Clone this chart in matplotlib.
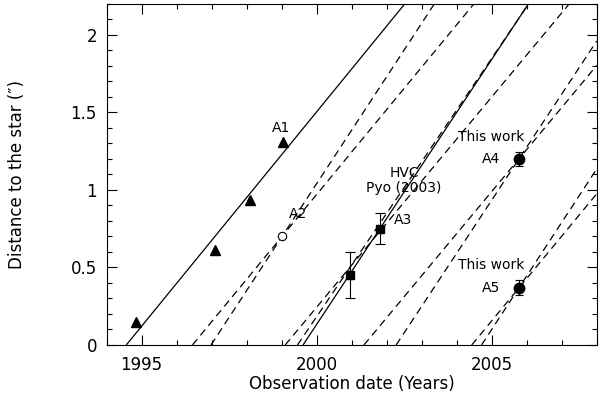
import numpy as np
import matplotlib
matplotlib.use('Agg')
import matplotlib.pyplot as plt
from matplotlib.ticker import MultipleLocator, FuncFormatter

# ── Data ─────────────────────────────────────────────────────
# A1 knot (filled triangles)
a1_year = [1994.83, 1997.09, 1998.09, 1999.04]
a1_dist = [0.15, 0.61, 0.935, 1.31]
# A2 knot (open symbol)
a2_year = [1999.02]
a2_dist = [0.70]
# A3 knot, HVC Pyo (2003) (squares with error bars)
a3_year = [2000.95, 2001.82]
a3_dist = [0.45, 0.75]
a3_err  = [0.15, 0.10]
# A4 / A5, this work (filled circles with error bars)
tw_year = [2005.77, 2005.77]
tw_dist = [1.20, 0.37]
tw_err  = [0.045, 0.05]
tw_name = ["A4", "A5"]

# linear motions: zero-crossing year and rate ("/yr)
fit_t0   = [1994.56, 1999.61]
fit_rate = [0.2764, 0.3416]
dash_t0   = [1996.45, 1996.98, 1999.10, 1999.45, 2001.35, 2002.27, 2004.43, 2004.71]
dash_rate = [0.2735, 0.3446, 0.271, 0.333, 0.271, 0.342, 0.273, 0.345]

XMIN, XMAX = 1994, 2008
YMIN, YMAX = 0, 2.2

plt.rcParams['font.family'] = ['DejaVu Sans']

fig = plt.figure(figsize=(6.0, 3.97), dpi=100)
ax = fig.add_axes([0.1778, 0.131, 0.8167, 0.8595])

# ── Motion lines ─────────────────────────────────────────────
for t0, r in zip(fit_t0, fit_rate):
    xx = np.array([t0, XMAX])
    ax.plot(xx, r * (xx - t0), color='black', lw=0.9, solid_capstyle='butt')
for t0, r in zip(dash_t0, dash_rate):
    xx = np.array([t0, XMAX])
    ax.plot(xx, r * (xx - t0), color='black', lw=0.9, dashes=(6, 4))

# ── Measurements ─────────────────────────────────────────────
ax.plot(a1_year, a1_dist, '^', color='black', ms=7.5, zorder=5)
ax.plot(a2_year, a2_dist, 'o', mfc='white', mec='black', mew=0.8, ms=6, zorder=5)
ax.errorbar(a3_year, a3_dist, yerr=a3_err, fmt='s', color='black', ms=6,
            elinewidth=0.8, capsize=3.5, capthick=0.8, zorder=5)
ax.errorbar(tw_year, tw_dist, yerr=tw_err, fmt='o', color='black', ms=7.5,
            elinewidth=0.8, capsize=3, capthick=0.8, zorder=5)

# ── Labels ───────────────────────────────────────────────────
fs = 10
def label(txt, xy, off, ha='center'):
    ax.annotate(txt, xy=xy, xytext=off, textcoords='offset points',
                ha=ha, va='center', fontsize=fs)

label("A1", (a1_year[-1], a1_dist[-1]), (-1.3, 10))
label("A2", (a2_year[0], a2_dist[0]), (11, 16.5))
label("A3", (a3_year[-1], a3_dist[-1]), (10, 6), ha='left')
label("HVC", (a3_year[-1], a3_dist[-1]), (17, 40))
label("Pyo (2003)", (a3_year[-1], a3_dist[-1]), (17, 29))
for yr, d, nm in zip(tw_year, tw_dist, tw_name):
    label(nm, (yr, d), (-20, 0))
    label("This work", (yr, d), (-20, 16))

# ── Axes styling ─────────────────────────────────────────────
ax.set_xlim(XMIN, XMAX)
ax.set_ylim(YMIN, YMAX)
ax.xaxis.set_major_locator(MultipleLocator(5))
ax.xaxis.set_minor_locator(MultipleLocator(1))
ax.yaxis.set_major_locator(MultipleLocator(0.5))
ax.yaxis.set_minor_locator(MultipleLocator(0.1))
ax.yaxis.set_major_formatter(FuncFormatter(lambda v, p: f"{v:g}"))
ax.tick_params(which='both', direction='in', top=True, right=True,
               width=0.8, labelsize=12)
ax.tick_params(which='major', length=7)
ax.tick_params(which='minor', length=3.5)
ax.tick_params(axis='x', pad=8)
ax.tick_params(axis='y', pad=7)
for s in ax.spines.values():
    s.set_linewidth(0.8)

ax.set_xlabel("Observation date (Years)", fontsize=12, labelpad=1)
ax.set_ylabel("Distance to the star (\u2033)", fontsize=12, labelpad=32)

fig.savefig("out.png", dpi=100)
